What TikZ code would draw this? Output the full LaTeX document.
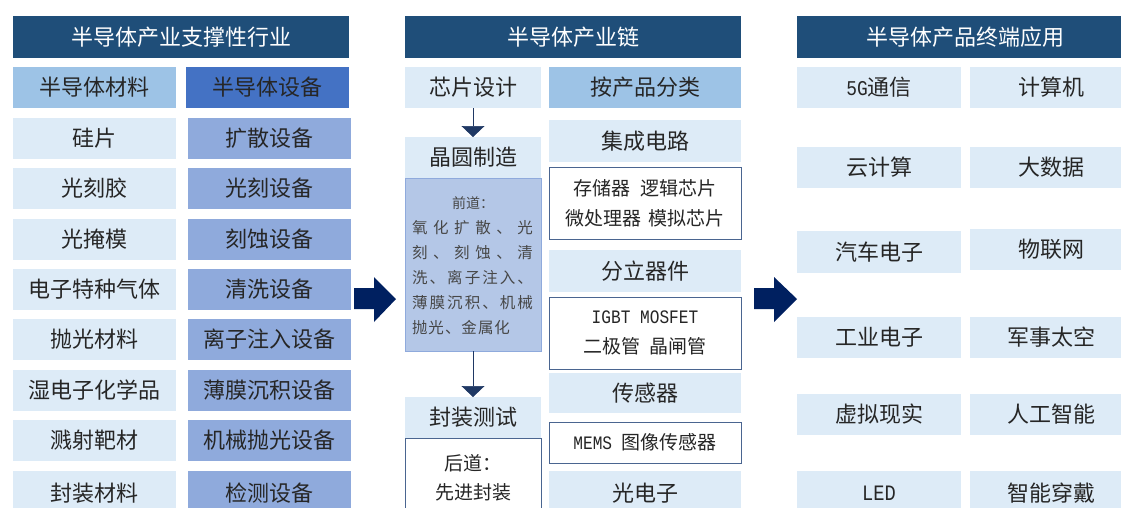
\documentclass[tikz,border=0pt]{standalone}
\usepackage{fontspec}
\setmainfont{Noto Sans CJK SC}
\newfontfamily\lat[FakeStretch=0.85]{Liberation Mono}
\usetikzlibrary{arrows.meta}
\definecolor{hdrblue}{HTML}{1F4E79}
\definecolor{matblue}{HTML}{9DC3E6}
\definecolor{equblue}{HTML}{4472C4}
\definecolor{equrow}{HTML}{8FAADC}
\definecolor{lightrow}{HTML}{DDEBF7}
\definecolor{frontfill}{HTML}{B4C7E7}
\definecolor{frontline}{HTML}{8FAADC}
\definecolor{subline}{HTML}{4A6590}
\definecolor{navy}{HTML}{002060}
\definecolor{txt}{HTML}{262626}
\definecolor{darrow}{HTML}{1F3864}
\newcommand\cellbox[7][]{\node[cell,minimum width=#5pt,minimum height=#6pt,#1] (#2) at (#3,#4) {#7};}
\newcommand\fbig{\fontsize{22}{26}\selectfont}
\newcommand\fmid{\fontsize{19}{30}\selectfont}
\newcommand\fsml{\fontsize{15.5}{18}\selectfont}
\begin{document}
\begin{tikzpicture}[x=1pt,y=-1pt,
  every node/.style={inner sep=0pt,outer sep=0pt},
  cell/.style={anchor=north west,rectangle,text=txt,font=\fbig,align=center},
  hdr/.style={fill=hdrblue,text=white},
  lt/.style={fill=lightrow},
  mat/.style={fill=matblue},
  equ/.style={fill=equblue},
  eqr/.style={fill=equrow},
  sub/.style={fill=white,draw=subline,line width=0.8pt,font=\fmid},
  front/.style={fill=frontfill,draw=frontline,line width=0.6pt},
  ftxt/.style={text=txt!85,font=\fsml,anchor=west},
  darr/.style={draw=darrow,line width=0.6pt,-{Triangle[width=23pt,length=11pt]}},
  blockarrow/.style={fill=navy}
]
\useasboundingbox (0,0) rectangle (1121,507);
\clip (0,0) rectangle (1121,507);
% ---------- left column ----------
\cellbox[hdr]{hdrL}{13}{16}{336}{42}{半导体产业支撑性行业}
\cellbox[mat]{matL}{13}{67}{163}{41}{半导体材料}
\cellbox[equ]{equL}{186}{67}{163}{41}{半导体设备}
\cellbox[lt]{m1}{13}{118}{163}{41}{硅片}
\cellbox[lt]{m2}{13}{168}{163}{41}{光刻胶}
\cellbox[lt]{m3}{13}{219}{163}{41}{光掩模}
\cellbox[lt]{m4}{13}{269}{163}{41}{电子特种气体}
\cellbox[lt]{m5}{13}{319}{163}{41}{抛光材料}
\cellbox[lt]{m6}{13}{370}{163}{41}{湿电子化学品}
\cellbox[lt]{m7}{13}{420}{163}{41}{溅射靶材}
\cellbox[lt]{m8}{13}{471}{163}{45}{封装材料}
\cellbox[eqr]{e1}{188}{118}{163}{41}{扩散设备}
\cellbox[eqr]{e2}{188}{168}{163}{41}{光刻设备}
\cellbox[eqr]{e3}{188}{219}{163}{41}{刻蚀设备}
\cellbox[eqr]{e4}{188}{269}{163}{41}{清洗设备}
\cellbox[eqr]{e5}{188}{319}{163}{41}{离子注入设备}
\cellbox[eqr]{e6}{188}{370}{163}{41}{薄膜沉积设备}
\cellbox[eqr]{e7}{188}{420}{163}{41}{机械抛光设备}
\cellbox[eqr]{e8}{188}{471}{163}{45}{检测设备}
% ---------- block arrow 1 ----------
\fill[blockarrow] (354,288) -- (374,288) -- (374,277) -- (396,299) -- (374,322) -- (374,309) -- (354,309) -- cycle;
% ---------- middle column ----------
\cellbox[hdr]{hdrM}{405}{16}{336}{42}{半导体产业链}
\cellbox[lt]{chip}{405}{67}{136}{41}{芯片设计}
\cellbox[mat]{cat}{549}{67}{192}{41}{按产品分类}
\cellbox[lt]{wafer}{405}{137}{136}{41}{晶圆制造}
\cellbox[front]{front}{405}{178}{136}{173}{}
\node[font=\fontsize{14}{16}\selectfont,text=txt!85] (f0) at (473,203) {前道：};
\node[ftxt] (f1) at (412,228) {\makebox[121pt][s]{氧\hfill 化\hfill 扩\hfill 散\hfill 、\hfill 光}};
\node[ftxt] (f2) at (412,253) {\makebox[121pt][s]{刻\hfill 、\hfill 刻\hfill 蚀\hfill 、\hfill 清}};
\node[ftxt] (f3) at (412,278) {\makebox[121pt][s]{洗\hfill 、\hfill 离\hfill 子\hfill 注\hfill 入\hfill 、}};
\node[ftxt] (f4) at (412,303) {\makebox[121pt][s]{薄\hfill 膜\hfill 沉\hfill 积\hfill 、\hfill 机\hfill 械}};
\node[ftxt] (f5) at (412,328) {抛\kern1pt 光\kern1pt 、\kern1pt 金\kern1pt 属\kern1pt 化};
\cellbox[lt]{pack}{405}{397}{136}{41}{封装测试}
\cellbox[sub]{back}{405}{438}{136}{85}{}
\node[font=\fmid,text=txt] (b1) at (473,463) {后道：};
\node[font=\fmid,text=txt] (b2) at (473,492) {先进封装};
\draw[darr] (chip) -- (wafer);
\draw[darr] (front) -- (pack);
\cellbox[lt]{ic}{549}{120}{192}{42}{集成电路}
\cellbox[sub]{icsub}{549}{167}{192}{72}{存储器\hspace{0.5em}逻辑芯片\\微处理器\hspace{0.4em}模拟芯片}
\cellbox[lt]{disc}{549}{250}{192}{42}{分立器件}
\cellbox[sub]{discsub}{549}{297}{192}{72}{{\lat\fontsize{19}{30}\selectfont IGBT MOSFET}\\二极管\hspace{0.5em}晶闸管}
\cellbox[lt]{sens}{549}{373}{192}{40}{传感器}
\cellbox[sub]{senssub}{549}{422}{192}{41}{{\lat\fontsize{19}{20}\selectfont MEMS}\hspace{0.5em}图像传感器}
\cellbox[lt]{opto}{549}{471}{192}{45}{光电子}
% ---------- block arrow 2 ----------
\fill[blockarrow] (754,288) -- (774,288) -- (774,277) -- (797,299) -- (774,322) -- (774,309) -- (754,309) -- cycle;
% ---------- right column ----------
\cellbox[hdr]{hdrR}{797}{16}{336}{42}{半导体产品终端应用}
\cellbox[lt]{a1}{797}{67}{164}{41}{{\lat\fontsize{21}{22}\selectfont 5G}通信}
\cellbox[lt]{b1r}{970}{67}{163}{41}{计算机}
\cellbox[lt]{a2}{797}{147}{164}{41}{云计算}
\cellbox[lt]{b2r}{970}{147}{163}{41}{大数据}
\cellbox[lt]{a3}{797}{231}{164}{42}{汽车电子}
\cellbox[lt]{b3r}{970}{229}{163}{41}{物联网}
\cellbox[lt]{a4}{797}{317}{164}{41}{工业电子}
\cellbox[lt]{b4r}{970}{317}{163}{41}{军事太空}
\cellbox[lt]{a5}{797}{394}{164}{41}{虚拟现实}
\cellbox[lt]{b5r}{970}{394}{163}{41}{人工智能}
\cellbox[lt]{a6}{797}{471}{164}{45}{{\lat\fontsize{22}{22}\selectfont LED}}
\cellbox[lt]{b6r}{970}{471}{163}{45}{智能穿戴}
\end{tikzpicture}
\end{document}
